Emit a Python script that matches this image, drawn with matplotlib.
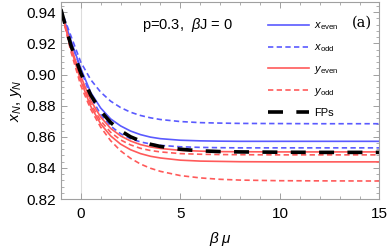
import numpy as np
import matplotlib
matplotlib.use("Agg")
import matplotlib.pyplot as plt
from matplotlib.ticker import MultipleLocator

plt.rcParams['font.family'] = ['Liberation Sans', 'DejaVu Sans']
plt.rcParams['mathtext.fontset'] = 'custom'
plt.rcParams['mathtext.rm'] = 'Liberation Sans'
plt.rcParams['mathtext.it'] = 'Liberation Sans:italic'

# --- Data ---
beta_mu = [-1, -0.5, 0, 0.5, 1, 1.5, 2, 2.5, 3, 3.5, 4, 5, 6, 7, 8, 10, 12, 15]

x_even = [0.942, 0.922, 0.904, 0.8885, 0.8785, 0.8715, 0.867, 0.8637, 0.8614, 0.8598,
          0.8588, 0.8578, 0.8574, 0.8572, 0.8571, 0.8571, 0.8571, 0.8571]
x_odd_hi = [0.942, 0.925, 0.908, 0.8967, 0.8887, 0.8829, 0.8788, 0.8758, 0.8737, 0.8722,
            0.8711, 0.8698, 0.8691, 0.8688, 0.8686, 0.8685, 0.8684, 0.8684]
x_odd_lo = [0.942, 0.921, 0.9035, 0.8858, 0.8743, 0.8669, 0.862, 0.8588, 0.8567, 0.8554,
            0.8545, 0.8536, 0.8532, 0.853, 0.8529, 0.8529, 0.8529, 0.8529]
y_even_hi = [0.942, 0.918, 0.899, 0.8833, 0.8727, 0.8654, 0.8606, 0.8573, 0.855, 0.8535,
             0.8525, 0.8513, 0.8508, 0.8505, 0.8504, 0.8503, 0.8503, 0.8503]
y_even_lo = [0.942, 0.917, 0.896, 0.8796, 0.8683, 0.8606, 0.8553, 0.8517, 0.8492, 0.8475,
             0.8464, 0.845, 0.8444, 0.8442, 0.844, 0.8439, 0.8439, 0.8439]
y_odd_hi = [0.942, 0.917, 0.898, 0.8813, 0.8703, 0.8629, 0.858, 0.8548, 0.8526, 0.8512,
            0.8503, 0.8492, 0.8488, 0.8486, 0.8485, 0.8484, 0.8484, 0.8484]
y_odd_lo = [0.942, 0.915, 0.893, 0.8777, 0.8662, 0.8575, 0.851, 0.8462, 0.8425, 0.8398,
            0.8378, 0.8351, 0.8336, 0.8327, 0.8322, 0.8318, 0.8317, 0.8316]
fps = [0.942, 0.919, 0.901, 0.8868, 0.8766, 0.8692, 0.8639, 0.86, 0.8573, 0.8552,
       0.8538, 0.852, 0.851, 0.8505, 0.8503, 0.8501, 0.85, 0.85]

blue = '#5a5aff'
red = '#ff5a5a'
frame = '#a0a0a0'

fig = plt.figure(figsize=(3.9, 2.47), dpi=100)
ax = fig.add_axes([0.156, 0.194, 0.817, 0.798])

ax.axvline(0, color='#dddddd', lw=0.8, zorder=0)

lw = 1.2
dsh = (0, (3.2, 2.0))
ax.plot(beta_mu, x_even, color=blue, lw=lw, label=r'$x_{\mathrm{even}}$')
ax.plot(beta_mu, x_odd_hi, color=blue, lw=lw, ls=dsh, label=r'$x_{\mathrm{odd}}$')
ax.plot(beta_mu, x_odd_lo, color=blue, lw=lw, ls=dsh)
ax.plot(beta_mu, y_even_hi, color=red, lw=lw, label=r'$y_{\mathrm{even}}$')
ax.plot(beta_mu, y_even_lo, color=red, lw=lw)
ax.plot(beta_mu, y_odd_hi, color=red, lw=lw, ls=dsh, label=r'$y_{\mathrm{odd}}$')
ax.plot(beta_mu, y_odd_lo, color=red, lw=lw, ls=dsh)
ax.plot(beta_mu, fps, color='black', lw=2.6, ls=(0, (4.15, 3.7)), label='FPs')

ax.set_xlim(-1, 15)
ax.set_ylim(0.82, 0.9466)
ax.set_xticks([0, 5, 10, 15])
ax.set_yticks([0.82, 0.84, 0.86, 0.88, 0.90, 0.92, 0.94])
ax.set_yticklabels(['0.82', '0.84', '0.86', '0.88', '0.90', '0.92', '0.94'])
ax.xaxis.set_minor_locator(MultipleLocator(1))
ax.yaxis.set_minor_locator(MultipleLocator(0.004))
ax.tick_params(which='both', direction='in', top=True, right=True,
               color=frame, labelsize=11, labelcolor='black')
ax.tick_params(which='major', length=4, width=0.7)
ax.tick_params(which='minor', length=2, width=0.6)
ax.tick_params(axis='x', pad=6)
for s in ax.spines.values():
    s.set_color(frame)
    s.set_linewidth(0.8)

ax.set_xlabel(r'$\beta\;\mu$', fontsize=11, labelpad=6)
ax.set_ylabel(r'$x_N,\, y_N$', fontsize=11, labelpad=2)

ax.text(0.255, 0.883, r'p=0.3,  $\beta$J = 0', transform=ax.transAxes,
        fontsize=10.5, ha='left', va='center')
ax.text(0.975, 0.893, '(a)', transform=ax.transAxes, fontsize=10.5,
        family='DejaVu Serif', ha='right', va='center')

ax.legend(loc='upper left', bbox_to_anchor=(0.625, 0.945), frameon=False,
          fontsize=8, handlelength=3.7, handletextpad=0.5, labelspacing=0.9,
          borderaxespad=0.3)

fig.savefig('out.png', dpi=100)
